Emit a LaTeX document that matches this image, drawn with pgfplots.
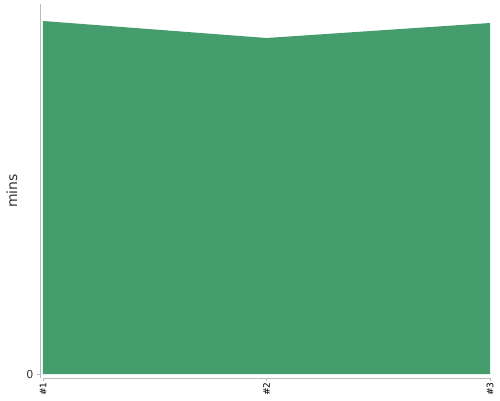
\documentclass[border=0pt]{standalone}
\usepackage{pgfplots}
\pgfplotsset{compat=1.18}
\usepackage{fontspec}
\setmainfont{DejaVu Sans}
\definecolor{areagreen}{HTML}{459C6C}
\definecolor{axisgray}{HTML}{BBBBBB}
\definecolor{txt}{HTML}{333333}
\begin{document}
\begin{tikzpicture}[x=1pt,y=1pt]
\path[use as bounding box] (-43pt,-22pt) rectangle (457pt,378pt);
\begin{axis}[
  scale only axis,
  width=447pt, height=374pt,
  xmin=1, xmax=3,
  ymin=-4, ymax=370,
  axis x line=bottom,
  axis y line=left,
  axis y line shift=3pt,
  axis line style={axisgray, line width=0.8pt, -},
  xtick={1,2,3},
  xticklabels={\#1,\#2,\#3},
  ytick={0},
  tick align=outside,
  major tick length=3pt,
  tick style={axisgray, line width=0.8pt},
  xticklabel style={rotate=90, anchor=east, font=\fontsize{9}{10}\selectfont, text=black, inner sep=1.5pt},
  yticklabel style={font=\fontsize{11}{12}\selectfont, text=txt},
  ylabel={mins},
  ylabel style={at={(-31pt,0.5)}, rotate=0, anchor=center, font=\fontsize{14}{15}\selectfont, text=txt},
  /pgf/number format/assume math mode=true,
  clip=false,
]
\addplot[fill=areagreen, draw=none] coordinates {(1,353) (2,336) (3,351)} \closedcycle;
\end{axis}
\end{tikzpicture}
\end{document}
